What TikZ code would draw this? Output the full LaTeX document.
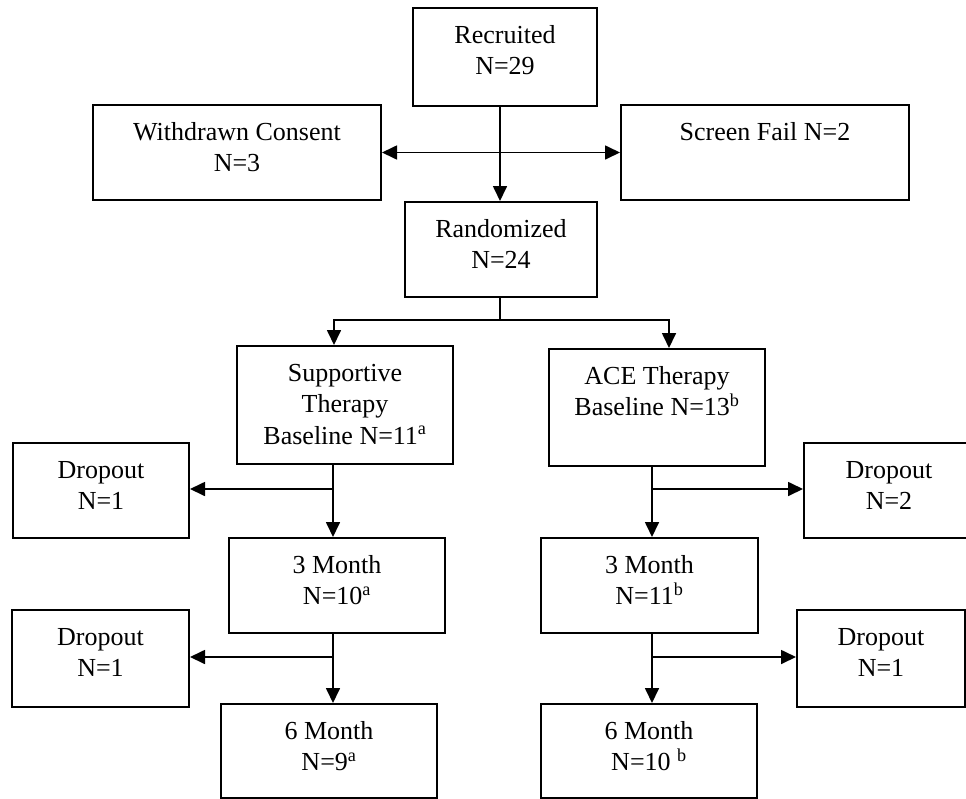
\documentclass[tikz,border=0pt]{standalone}
\usepackage{fontspec}
\setmainfont{Liberation Serif}
\usetikzlibrary{arrows.meta}

% text block of a box: width, height, lines (top aligned)
\newcommand{\boxtext}[3]{\parbox[t][#2pt][t]{#1pt}{\centering\rule{0pt}{35pt}#3}}

\begin{document}
\begin{tikzpicture}[%
		x=1pt, y=-1pt,
		->,
		>={Triangle[length=15pt,width=14pt]},
		line width=1.7pt,
		stagebox/.style={%
			draw,
			line width=2pt,
			inner sep=0pt,
			anchor=north west,
			font=\fontsize{26}{31.5}\selectfont
		}
		]
		\useasboundingbox (0,0) rectangle (966,798);

		\node[stagebox] (recr)   at (412,7)   {\boxtext{184}{98}{Recruited\\N=29}};
		\node[stagebox] (withd)  at (92,104)  {\boxtext{288}{95}{Withdrawn Consent\\N=3}};
		\node[stagebox] (screen) at (620,104) {\boxtext{288}{95}{Screen Fail N=2}};
		\node[stagebox] (rand)   at (404,201) {\boxtext{192}{95}{Randomized\\N=24}};
		\node[stagebox] (supp)   at (236,345) {\boxtext{216}{118}{Supportive\\Therapy\\Baseline N=11\textsuperscript{a}}};
		\node[stagebox] (ace)    at (548,348) {\boxtext{216}{117}{ACE Therapy\\Baseline N=13\textsuperscript{b}}};
		\node[stagebox] (dropL1) at (12,442)  {\boxtext{176}{95}{Dropout\\N=1}};
		\node[stagebox] (dropR1) at (803,442) {\boxtext{170}{95}{Dropout\\N=2}};
		\node[stagebox] (m3L)    at (228,537) {\boxtext{216}{95}{3 Month\\N=10\textsuperscript{a}}};
		\node[stagebox] (m3R)    at (540,537) {\boxtext{217}{95}{3 Month\\N=11\textsuperscript{b}}};
		\node[stagebox] (dropL2) at (11,609)  {\boxtext{177}{97}{Dropout\\N=1}};
		\node[stagebox] (dropR2) at (796,609) {\boxtext{168}{97}{Dropout\\N=1}};
		\node[stagebox] (m6L)    at (220,703) {\boxtext{216}{94}{6 Month\\N=9\textsuperscript{a}}};
		\node[stagebox] (m6R)    at (540,703) {\boxtext{216}{94}{6 Month\\N=10 \textsuperscript{b}}};

		\coordinate (fork) at (500,320);
		\coordinate (brL1) at (333,489);
		\coordinate (brR1) at (652,489);
		\coordinate (brL2) at (333,657);
		\coordinate (brR2) at (652,657);

		\draw (recr.south -| fork) -- (rand.north -| fork);
		\draw[<->] (withd) -- (screen);
		\draw[-] (rand.south -| fork) -- (fork);
		\draw (fork) -| ([xshift=-11pt]supp.north);
		\draw (fork) -| ([xshift=12pt]ace.north);

		\draw (supp.south -| brL1) -- (m3L.north -| brL1);
		\draw (brL1) -- (brL1 -| dropL1.east);
		\draw (ace.south -| brR1) -- (m3R.north -| brR1);
		\draw (brR1) -- (brR1 -| dropR1.west);

		\draw (m3L.south -| brL2) -- (m6L.north -| brL2);
		\draw (brL2) -- (brL2 -| dropL2.east);
		\draw (m3R.south -| brR2) -- (m6R.north -| brR2);
		\draw (brR2) -- (brR2 -| dropR2.west);
\end{tikzpicture}
\end{document}
